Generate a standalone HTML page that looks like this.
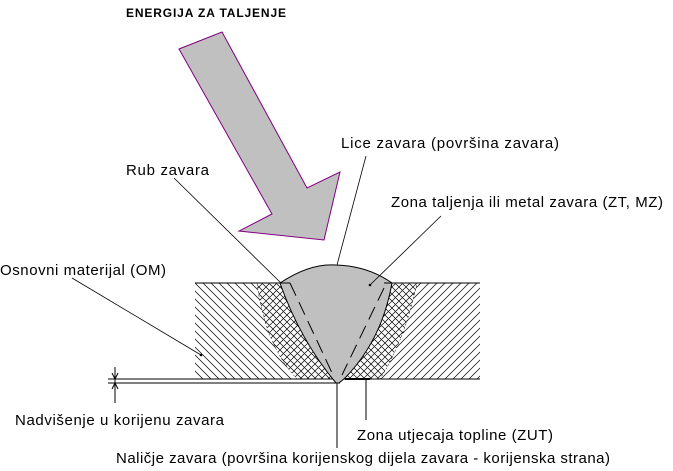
<!DOCTYPE html>
<html><head><meta charset="utf-8"><style>
html,body{margin:0;padding:0;background:#fff;}
svg{display:block;}
text{font-family:"Liberation Sans",sans-serif;font-size:15px;fill:#000;}
</style></head><body>
<svg width="673" height="471" viewBox="0 0 673 471" xmlns="http://www.w3.org/2000/svg">
<defs>
<pattern id="bs" width="8" height="8" patternUnits="userSpaceOnUse">
<path d="M-1,-1 L9,9 M-9,-1 L1,9 M7,-1 L17,9" stroke="#000" stroke-width="0.7"/>
</pattern>
<pattern id="fs" width="8" height="8" patternUnits="userSpaceOnUse">
<path d="M-1,9 L9,-1 M-9,9 L1,-1 M7,9 L17,-1" stroke="#000" stroke-width="0.7"/>
</pattern>
<pattern id="xh" width="7" height="7" patternUnits="userSpaceOnUse">
<path d="M-1,-1 L8,8 M-8,-1 L1,8 M6,-1 L15,8 M-1,8 L8,-1 M-8,8 L1,-1 M6,8 L15,-1" stroke="#000" stroke-width="0.7"/>
</pattern>
</defs>
<text x="126" y="17" font-weight="bold" style="font-size:12px" textLength="160">ENERGIJA ZA TALJENJE</text>
<polygon points="179,49 222,32 307,188 340,172 324,240 239,231 272,214" fill="#c0c0c0" stroke="#800080" stroke-width="1"/>
<rect x="195" y="283" width="142" height="96" fill="url(#bs)"/>
<rect x="337" y="283" width="143" height="96" fill="url(#fs)"/>
<path d="M257,283 Q265,345 297,379 L380,379 Q405,340 417,283 Z" fill="#fff"/>
<path d="M257,283 Q265,345 297,379 L380,379 Q405,340 417,283 Z" fill="url(#xh)" stroke="#000" stroke-width="0.5" stroke-dasharray="2,2"/>
<line x1="195" y1="283" x2="480" y2="283" stroke="#000"/>
<line x1="108" y1="379" x2="480" y2="379" stroke="#000"/>
<line x1="108" y1="383" x2="340" y2="383" stroke="#000"/>
<line x1="345" y1="379" x2="370" y2="379" stroke="#000" stroke-width="2"/>
<path d="M280,283 Q310,263 336,265 Q368,266 392,283 Q382,340 345,378 L339,383 L336,383 Q300,340 280,283 Z" fill="#c0c0c0" stroke="#000" stroke-width="1"/>
<line x1="280" y1="283" x2="290" y2="283" stroke="#000"/>
<line x1="384" y1="283" x2="392" y2="283" stroke="#000"/>
<path d="M290,283 L333,375" stroke="#000" stroke-dasharray="14,7"/>
<path d="M384,288 L342,375" stroke="#000" stroke-dasharray="14,7"/>
<line x1="174" y1="178" x2="281" y2="283" stroke="#000" stroke-width="0.8"/>
<line x1="366" y1="156" x2="337" y2="265" stroke="#000" stroke-width="0.8"/>
<line x1="441" y1="216" x2="370" y2="285" stroke="#000" stroke-width="0.8"/>
<circle cx="370" cy="285" r="1.3"/>
<line x1="72" y1="278" x2="201" y2="355" stroke="#000" stroke-width="0.8"/>
<circle cx="201" cy="355" r="1.3"/>
<line x1="366" y1="378" x2="366" y2="420" stroke="#000"/>
<line x1="337" y1="383" x2="337" y2="448" stroke="#000"/>
<line x1="115" y1="367" x2="115" y2="403" stroke="#000"/>
<path d="M112,373 L115,379 L118,373 M112,389 L115,383 L118,389" stroke="#000" fill="none"/>
<text x="341" y="148" textLength="218">Lice zavara (površina zavara)</text>
<text x="126" y="175" textLength="83">Rub zavara</text>
<text x="391" y="207" textLength="272">Zona taljenja ili metal zavara (ZT, MZ)</text>
<text x="0" y="275" textLength="166">Osnovni materijal (OM)</text>
<text x="15" y="425" textLength="209">Nadvišenje u korijenu zavara</text>
<text x="357" y="440" textLength="196">Zona utjecaja topline (ZUT)</text>
<text x="116" y="463" textLength="494">Naličje zavara (površina korijenskog dijela zavara - korijenska strana)</text>
</svg>
</body></html>
